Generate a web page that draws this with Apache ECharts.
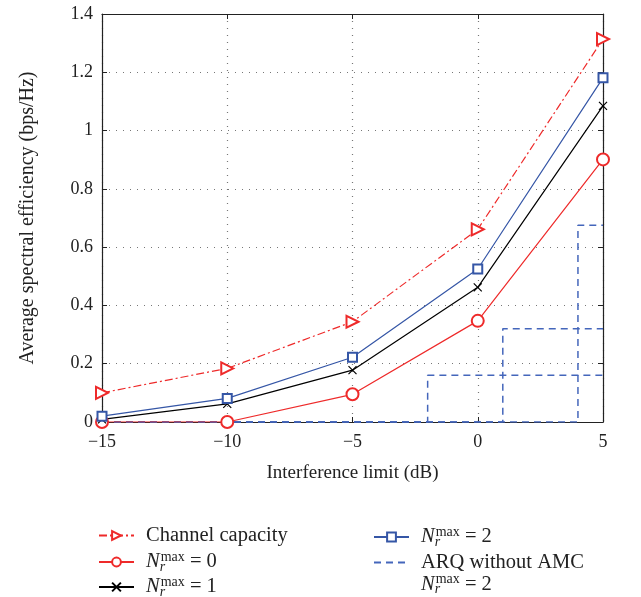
<!DOCTYPE html>
<html><head><meta charset="utf-8">
<script src="https://cdn.jsdelivr.net/npm/echarts@6/dist/echarts.min.js"></script>
<style>html,body{margin:0;padding:0;background:#fff}#c{width:641px;height:597px}</style>
</head><body><div id="c"></div>
<script>
var xValues = [-15, -10, -5, 0, 5];
var capacity = [0.10, 0.184, 0.344, 0.661, 1.314];
var nr0 = [0, 0, 0.095, 0.347, 0.901];
var nr1 = [0.009, 0.062, 0.178, 0.462, 1.085];
var nr2 = [0.02, 0.081, 0.222, 0.525, 1.181];
var arqSwitch = [-2, 1, 4];
var arqLevel = [0.16, 0.32, 0.675];
var yTicks = [0, 0.2, 0.4, 0.6, 0.8, 1, 1.2, 1.4];

var FONT = '"Liberation Serif","DejaVu Serif",serif';
var RED = '#ee2a2a', BLUE = '#3556a6', BLUE2 = '#4466bb', BLACK = '#000';

function pairs(ys){ return xValues.map(function(x,i){ return [x, ys[i]]; }); }
function fmtNum(v){ return String(v).replace('-', '\u2212'); }

var LF = 20.5;
var rich = {
  t: {fontFamily: FONT, fontSize: LF, color: '#222', lineHeight: 22},
  N: {fontFamily: FONT, fontSize: LF, fontStyle: 'italic', color: '#222', lineHeight: 22},
  r: {fontFamily: FONT, fontSize: 14, fontStyle: 'italic', color: '#222', width: 0, padding: [10,0,0,0], lineHeight: 12},
  m: {fontFamily: FONT, fontSize: 14, color: '#222', padding: [0,0,10,1], lineHeight: 12}
};
function nrLabel(k){ return '{N|N}{r|r}{m|max}{t| = ' + k + '}'; }
var labels = {
  'Channel capacity': '{t|Channel capacity}',
  'Nr0': nrLabel(0),
  'Nr1': nrLabel(1),
  'Nr2': nrLabel(2),
  'ARQ': '{t|ARQ without AMC}\n' + nrLabel(2)
};

var series = [
  {name: 'Channel capacity', type: 'line', data: pairs(capacity),
   symbol: 'emptyTriangle', symbolSize: 12, symbolRotate: -90,
   lineStyle: {color: RED, width: 1.2, type: [8,3,2,3]}, itemStyle: {color: RED, borderWidth: 1.2}, z: 5},
  {name: 'Nr0', type: 'line', data: pairs(nr0), symbol: 'emptyCircle', symbolSize: 12,
   lineStyle: {color: RED, width: 1.2}, itemStyle: {color: RED, borderWidth: 1.2}, z: 5},
  {name: 'Nr1', type: 'line', data: pairs(nr1), symbol: 'path://M0,0L10,10M10,0L0,10', symbolSize: 8,
   lineStyle: {color: BLACK, width: 1.2}, itemStyle: {color: BLACK, borderColor: BLACK, borderWidth: 1.2}, z: 5},
  {name: 'Nr2', type: 'line', data: pairs(nr2), symbol: 'emptyRect', symbolSize: 9,
   lineStyle: {color: BLUE, width: 1.2}, itemStyle: {color: BLUE, borderWidth: 1.2}, z: 5}
];
arqSwitch.forEach(function(sw, i){
  series.push({name: 'ARQ', type: 'line', showSymbol: false, symbol: 'circle', symbolSize: 0,
    data: [[-15, 0], [sw, 0], [sw, arqLevel[i]], [5, arqLevel[i]]],
    lineStyle: {color: BLUE2, width: 1.5, type: [7,5]}, itemStyle: {color: BLUE2}, z: 4});
});

var legendText = {fontFamily: FONT, fontSize: LF, color: '#222', padding: [0,0,0,7], rich: rich};
function oneLegend(item, left, top){
  return {orient: 'vertical', left: left, top: top, padding: 0,
    itemWidth: 35, itemHeight: 11, itemGap: 0, data: [item],
    formatter: function(n){ return labels[n]; }, textStyle: legendText};
}
var legends = [
  oneLegend('Channel capacity', 98, 525),
  oneLegend('Nr0', 98, 550),
  oneLegend('Nr1', 98, 575),
  oneLegend('Nr2', 373, 525),
  oneLegend({name: 'ARQ', itemStyle: {color: 'rgba(0,0,0,0)', borderColor: 'rgba(0,0,0,0)'},
    textStyle: {padding: [22,0,0,7]}}, 373, 552)
];

var option = {
  animation: false,
  backgroundColor: '#fff',
  grid: {left: 102, right: 38, top: 14, bottom: 175, containLabel: false},
  xAxis: [{
    type: 'value', min: -15, max: 5, interval: 5, position: 'bottom',
    name: 'Interference limit (dB)', nameLocation: 'middle', nameGap: 42,
    nameTextStyle: {fontFamily: FONT, fontSize: 19, color: '#222'},
    axisLine: {onZero: false, lineStyle: {color: '#222', width: 1.2}},
    axisTick: {inside: true, length: 5, lineStyle: {color: '#222'}},
    axisLabel: {fontFamily: FONT, fontSize: 18, color: '#222', margin: 11, formatter: fmtNum},
    splitLine: {show: true, lineStyle: {color: '#777', type: [1,6], width: 1.2}}
  }, {
    type: 'value', min: -15, max: 5, interval: 5, position: 'top',
    axisLine: {onZero: false, lineStyle: {color: '#222', width: 1.2}},
    axisTick: {inside: true, length: 5, lineStyle: {color: '#222'}},
    axisLabel: {show: false}, splitLine: {show: false}
  }],
  yAxis: [{
    type: 'value', min: 0, max: 1.4, interval: 0.2, position: 'left',
    name: 'Average spectral efficiency (bps/Hz)', nameLocation: 'middle', nameGap: 64,
    nameTextStyle: {fontFamily: FONT, fontSize: 20, color: '#222'},
    axisLine: {onZero: false, lineStyle: {color: '#222', width: 1.2}},
    axisTick: {inside: true, length: 5, lineStyle: {color: '#222'}},
    axisLabel: {fontFamily: FONT, fontSize: 18, color: '#222', margin: 9,
      formatter: function(v){ var t = yTicks.filter(function(k){ return Math.abs(k - v) < 1e-9; }); return t.length ? String(t[0]) : ''; }},
    splitLine: {show: true, lineStyle: {color: '#777', type: [1,6], width: 1.2}}
  }, {
    type: 'value', min: 0, max: 1.4, interval: 0.2, position: 'right',
    axisLine: {onZero: false, lineStyle: {color: '#222', width: 1.2}},
    axisTick: {inside: true, length: 5, lineStyle: {color: '#222'}},
    axisLabel: {show: false}, splitLine: {show: false}
  }],
  legend: legends,
  series: series
};
var chart = echarts.init(document.getElementById('c'), null, {renderer: 'canvas'});
chart.setOption(option);
</script></body></html>
